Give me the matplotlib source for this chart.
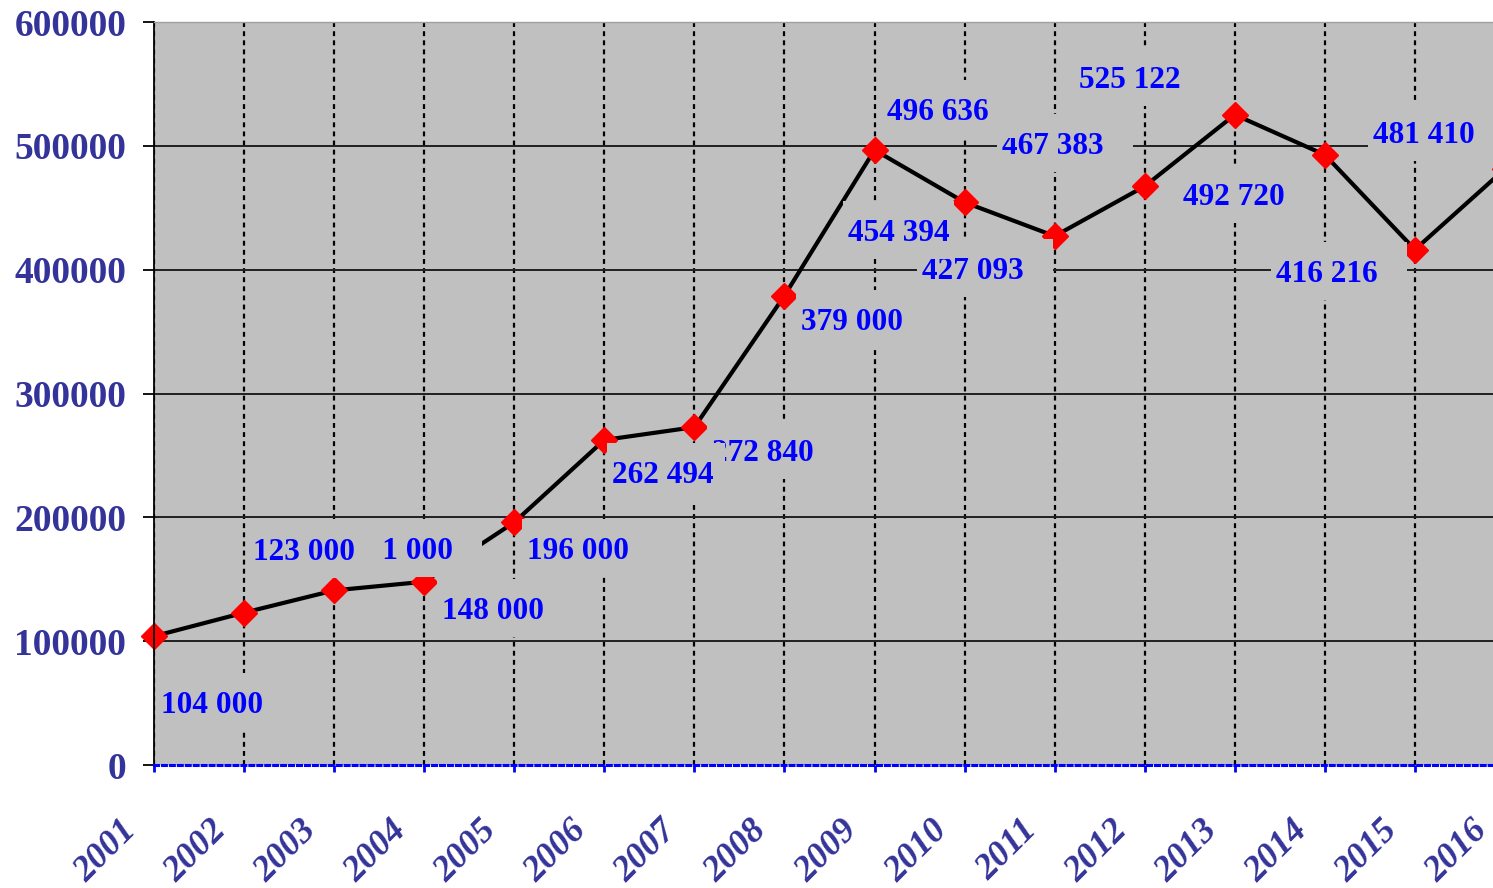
import matplotlib.pyplot as plt
from matplotlib.patches import Rectangle
from matplotlib.transforms import ScaledTranslation

plt.rcParams['font.family'] = ['Liberation Serif', 'DejaVu Serif']

years = list(range(2001, 2017))
values = [104000, 123000, 141000, 148000, 196000, 262494, 272840, 379000,
          496636, 454394, 427093, 467383, 525122, 492720, 416216, 481410]
labels = ['104 000', '123 000', '141 000', '148 000', '196 000', '262 494',
          '272 840', '379 000', '496 636', '454 394', '427 093', '467 383',
          '525 122', '492 720', '416 216', '481 410']
# where each value label sits, in pixels from its point (left edge, middle; y down)
label_dx = [7, 9, 17, 18, 13, 8, 18, 17, 12, -117, -133, -143, -156, -142, -139, -132]
label_dy = [66, -64, -42, 26, 26, 32, 23, 23, -41, 28, 32, -43, -38, 39, 21, -37]
# extra room of the gray label box right of the text
box_pad_right = [30, 29, 30, 30, 30, 12, 30, 30, 30, 5, 30, 30, 30, 30, 30, 30]
yticks = [0, 100000, 200000, 300000, 400000, 500000, 600000]

navy = '#333399'
gray = '#c0c0c0'

fig = plt.figure(figsize=(14.93, 8.88), dpi=100)
W, H = 1493, 888
ax = fig.add_axes([154 / W, (H - 765) / H, (1505 - 154) / W, (765 - 22) / H])
ax.set_facecolor(gray)

ax.plot(years, values, color='black', lw=3, zorder=2,
        marker='D', ms=13, mfc='red', mec='red', clip_on=False)

ax.set_xlim(2001, 2016)
ax.set_ylim(0, 600000)
ax.set_xticks(years)
ax.set_yticks(yticks)
ax.set_yticklabels([str(v) for v in yticks], fontsize=27, fontweight='bold', color=navy)
ax.set_xticklabels([str(y) for y in years], fontsize=26, fontweight='bold',
                   fontstyle='italic', color=navy, rotation=45,
                   ha='right', va='top', rotation_mode='anchor')

ax.set_axisbelow(True)
ax.yaxis.grid(True, color='#202020', lw=1.4, ls='-')
ax.xaxis.grid(True, color='black', lw=1.6, ls=(0, (2.2, 1.9)))
ygl = ax.get_ygridlines()
ygl[0].set_visible(False)
ygl[-1].set_visible(False)

ax.tick_params(axis='y', length=8, width=1.3, color='black', pad=12)
ax.tick_params(axis='x', length=5, width=2, color='blue', pad=30)
for lab in ax.get_xticklabels():
    lab.set_transform(lab.get_transform() + ScaledTranslation(-0.34, 0, fig.dpi_scale_trans))

ax.spines['left'].set_color('black')
ax.spines['left'].set_linewidth(1.3)
ax.spines['top'].set_color('#a0a0a0')
ax.spines['top'].set_linewidth(1)
ax.spines['right'].set_visible(False)
ax.spines['bottom'].set_color('blue')
ax.spines['bottom'].set_linewidth(2.2)
ax.spines['bottom'].set_linestyle((0, (1.3, 1.3)))

# value labels on gray boxes, later years first so earlier ones sit on top
z = 3
for i in reversed(range(len(years))):
    anchor = ScaledTranslation(years[i], values[i], ax.transData)
    box = Rectangle((label_dx[i] - 5, -label_dy[i] - 29), 106 + box_pad_right[i], 58,
                    transform=anchor, facecolor=gray, edgecolor='none', zorder=z)
    ax.add_patch(box)
    ax.annotate(labels[i], (years[i], values[i]),
                xytext=(label_dx[i], -label_dy[i] - 11), textcoords='offset pixels',
                ha='left', va='baseline', fontsize=22.5, fontweight='bold',
                color='blue', zorder=z + 0.5)
    z += 1

fig.savefig('out.png', dpi=100)
